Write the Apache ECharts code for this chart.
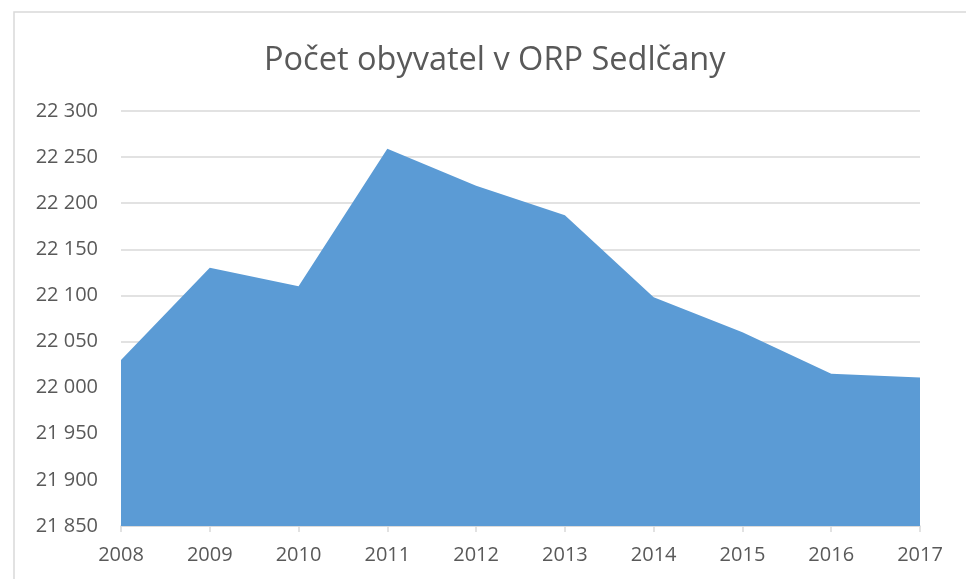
<!DOCTYPE html>
<html lang="cs">
<head>
    <meta charset="UTF-8">
    <title>Počet obyvatel v ORP Sedlčany</title>
    <script src="https://cdn.jsdelivr.net/npm/echarts@6/dist/echarts.min.js"></script>
    <style>
        html, body { margin: 0; padding: 0; background: #fff; }
    </style>
</head>
<body>
<div id="main" style="width: 966px;height:579px;"></div>

<script type="text/javascript">
    // data
    var roky = ['2008', '2009', '2010', '2011', '2012', '2013', '2014', '2015', '2016', '2017'];
    var obyvatele = [22030, 22130, 22110, 22259, 22219, 22187, 22098, 22060, 22015, 22011];
    var yMin = 21850;
    var yMax = 22300;
    var yKrok = 50;

    function tisice(v) {
        return String(v).replace(/\B(?=(\d{3})+(?!\d))/g, ' ');
    }

    var myChart = echarts.init(document.getElementById('main'));
    var option = {
        animation: false,
        backgroundColor: '#fff',
        title: {
            text: 'Počet obyvatel v ORP Sedlčany',
            left: 259,
            top: 39,
            textStyle: {
                fontFamily: 'Open Sans',
                fontWeight: 'normal',
                fontSize: 32.5,
                color: '#595959'
            }
        },
        // ramecek grafu
        graphic: [
            {
                type: 'polyline',
                shape: { points: [[14, 579], [14, 12], [966, 12]] },
                style: { stroke: '#d9d9d9', lineWidth: 1.5, fill: null }
            }
        ],
        grid: {
            left: 121,
            right: 46,
            top: 111,
            bottom: 53
        },
        xAxis: {
            type: 'category',
            data: roky,
            boundaryGap: false,
            axisLine: { lineStyle: { color: '#d9d9d9', width: 1.5 } },
            axisTick: { show: true, length: 6, lineStyle: { color: '#d9d9d9', width: 1.5 } },
            axisLabel: {
                margin: 19,
                fontFamily: 'Open Sans',
                fontSize: 20,
                color: '#595959'
            }
        },
        yAxis: {
            type: 'value',
            min: yMin,
            max: yMax,
            interval: yKrok,
            axisLine: { show: false },
            axisTick: { show: false },
            splitLine: { lineStyle: { color: '#d9d9d9', width: 1.5 } },
            axisLabel: {
                margin: 23,
                fontFamily: 'Open Sans',
                fontSize: 20,
                color: '#595959',
                formatter: tisice
            }
        },
        series: [
            {
                name: 'Počet obyvatel',
                type: 'line',
                data: obyvatele,
                symbol: 'none',
                lineStyle: { width: 0 },
                areaStyle: { color: '#5b9bd5', opacity: 1, origin: 'start' },
                itemStyle: { color: '#5b9bd5' }
            }
        ]
    };
    myChart.setOption(option);
</script>
</body>
</html>
